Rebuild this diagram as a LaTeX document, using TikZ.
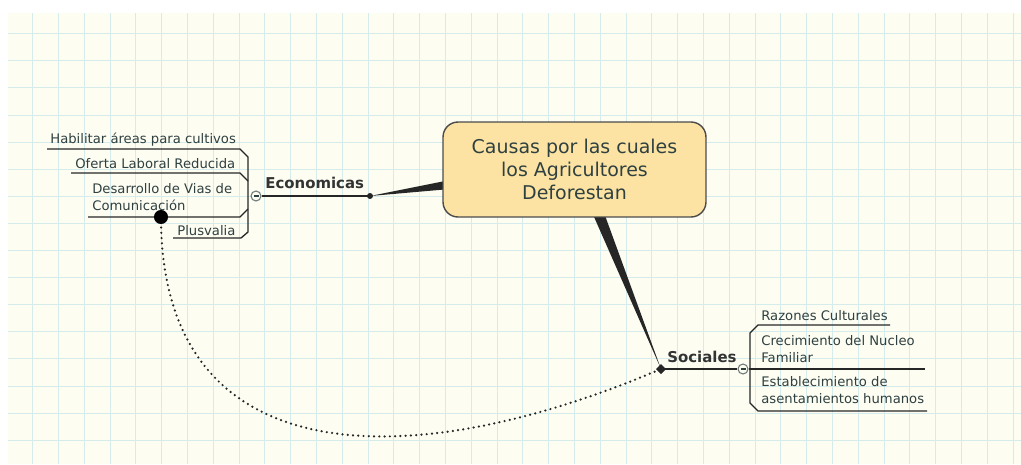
\documentclass[tikz,border=0pt]{standalone}
\usepackage{fontspec}
\setmainfont{DejaVu Sans}
\usetikzlibrary{calc}
\definecolor{papel}{HTML}{FDFDF2}
\definecolor{rejilla}{HTML}{D6ECEC}
\definecolor{tinta}{HTML}{2F4040}
\definecolor{caja}{HTML}{FCE3A3}
\tikzset{
    rama/.style={draw=black!85, line width=0.75pt},
    hoja/.style={text=tinta, inner sep=0pt, anchor=base west, align=left,
        font=\fontsize{7.5}{9.6}\selectfont},
    rama texto/.style={text=black!80, inner sep=0pt, anchor=base west,
        font=\fontsize{8.5}{11}\selectfont\bfseries},
    toggle/.style={circle, draw=tinta!70, fill=papel, line width=0.6pt,
        inner sep=0pt, minimum size=0.2cm},
    punteado/.style={black!85, line width=1.4pt, line cap=round,
        dash pattern=on 0pt off 3pt}
}

\begin{document}
\begin{tikzpicture}[x=0.02cm, y=-0.02cm]
    \useasboundingbox (0,0) rectangle (1021,464);

    % Papel cuadriculado
    \fill[white] (0,0) rectangle (1021,464);
    \fill[papel] (8,13) rectangle (1021,464);
    \foreach \i in {0,...,38}
        \draw[rejilla, line width=0.5pt] (32.7+25.8*\i,13) -- (32.7+25.8*\i,464);
    \foreach \j in {0,...,15}
        \draw[rejilla, line width=0.5pt] (8,33.7+27.1*\j) -- (1021,33.7+27.1*\j);

    % Puntos de union
    \coordinate (puntoE) at (370,196);
    \coordinate (puntoS) at (661,369);
    \coordinate (puntoD) at (161,217);

    % Ramas gruesas hacia la idea central
    \fill[black!85] (puntoE) -- (450,180) -- (450,189) -- cycle;
    \fill[black!85] (591,210) -- (603,210) -- (puntoS) -- cycle;

    % Idea central
    \node[draw=black!70, fill=caja, line width=0.8pt, rounded corners=0.3cm,
        minimum width=5.26cm, minimum height=1.9cm, align=center, text=tinta,
        font=\fontsize{10.8}{13.2}\selectfont] (centro) at (574.5,169.5)
        {Causas por las cuales\\los Agricultores\\Deforestan};

    % Economicas
    \draw[rama] (47,149) -- (240,149) -- (248,157) -- (248,232) -- (241,238) -- (173,238);
    \draw[rama] (71,173) -- (240,173) -- (248,181);
    \draw[rama] (88,217) -- (240,217) -- (248,209);
    \node[toggle] (togE) at (256,196) {};
    \draw[tinta, line width=0.6pt] ($(togE.center)+(-2.5,0)$) -- ($(togE.center)+(2.5,0)$);
    \draw[rama] (togE) -- (puntoE);
    \fill[black!85] (puntoE) circle[radius=1.7pt];
    \node[rama texto] (econ) at (265,188) {Economicas};

    \node[hoja] (hab) at (50,143) {Habilitar áreas para cultivos};
    \node[hoja] (ofe) at (75,168) {Oferta Laboral Reducida};
    \node[hoja] (des) at (92,210) {Desarrollo de Vias de\\Comunicación};
    \node[hoja] (plu) at (177,235) {Plusvalia};

    % Sociales
    \draw[rama] (890,325) -- (758,325) -- (750,333) -- (750,403) -- (758,411) -- (927,411);
    \node[toggle] (togS) at (743,369) {};
    \draw[rama] (togS) -- (925,369);
    \draw[tinta, line width=0.6pt] ($(togS.center)+(-2.5,0)$) -- ($(togS.center)+(2.5,0)$);
    \draw[rama] (puntoS) -- (togS);
    \fill[black!85] (656,369) -- (661,364) -- (666,369) -- (661,374) -- cycle;
    \node[rama texto] (soc) at (667,362) {Sociales};

    \node[hoja] (raz) at (761,320) {Razones Culturales};
    \node[hoja] (cre) at (761,362) {Crecimiento del Nucleo\\Familiar};
    \node[hoja] (est) at (761,403) {Establecimiento de\\asentamientos humanos};

    % Relacion punteada
    \draw[punteado] (puntoD) .. controls (161,470) and (400,480) .. (puntoS);
    \fill[black] (puntoD) circle[radius=4pt];

\end{tikzpicture}
\end{document}
